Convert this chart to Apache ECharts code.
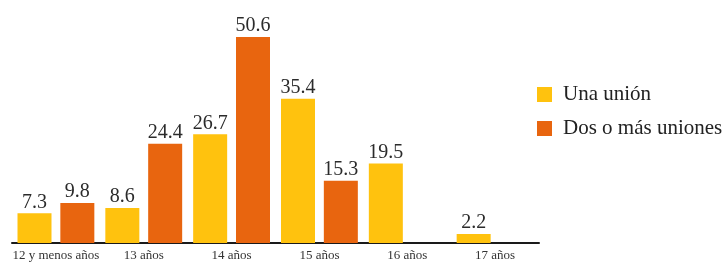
<!DOCTYPE html>
<html>
<head>
    <meta charset="utf-8"/>
    <title>Uniones por edad</title>
    <style type="text/css">
        html, body { margin: 0; padding: 0; background: #ffffff; }
        #main { width: 728px; height: 263px; }
    </style>
    <script type="text/javascript" src="https://cdn.jsdelivr.net/npm/echarts@6/dist/echarts.min.js"></script>
</head>
<body>
<div id="main"></div>
<script type="text/javascript">
    // categorias (edad)
    var categories = ['12 y menos años', '13 años', '14 años', '15 años', '16 años', '17 años'];
    // series
    var unaUnion = [7.3, 8.6, 26.7, 35.4, 19.5, 2.2];
    var dosOMas = [9.8, 24.4, 50.6, 15.3, null, null];
    var seriesNames = ['Una unión', 'Dos o más uniones'];

    var myChart = echarts.init(document.getElementById('main'));

    var serif = '"Liberation Serif", "Times New Roman", serif';

    var labelStyle = {
        show: true,
        position: 'top',
        distance: 1,
        fontFamily: serif,
        fontSize: 20,
        color: '#2b2b2b'
    };

    var option = {
        animation: false,
        backgroundColor: '#ffffff',
        grid: {
            left: 12,
            right: 189,
            top: 19,
            bottom: 20
        },
        legend: {
            orient: 'vertical',
            left: 537,
            top: 84,
            padding: 0,
            itemWidth: 15,
            itemHeight: 15,
            itemGap: 13,
            icon: 'rect',
            textStyle: {
                fontFamily: serif,
                fontSize: 21,
                color: '#222',
                padding: [0, 0, 0, 6]
            },
            data: seriesNames
        },
        xAxis: {
            type: 'category',
            data: categories,
            axisTick: { show: false },
            axisLine: { lineStyle: { color: '#1a1a1a', width: 2 } },
            axisLabel: {
                fontFamily: serif,
                fontSize: 13,
                color: '#333',
                margin: 6,
                interval: 0
            }
        },
        yAxis: {
            type: 'value',
            min: 0,
            max: 55,
            show: false,
            splitLine: { show: false }
        },
        series: [
            {
                name: seriesNames[0],
                type: 'bar',
                data: unaUnion,
                barWidth: 34,
                barGap: '26%',
                itemStyle: { color: '#FFC20E' },
                label: labelStyle
            },
            {
                name: seriesNames[1],
                type: 'bar',
                data: dosOMas,
                barWidth: 34,
                itemStyle: { color: '#E8650F' },
                label: labelStyle
            }
        ]
    };

    myChart.setOption(option);
</script>
</body>
</html>
